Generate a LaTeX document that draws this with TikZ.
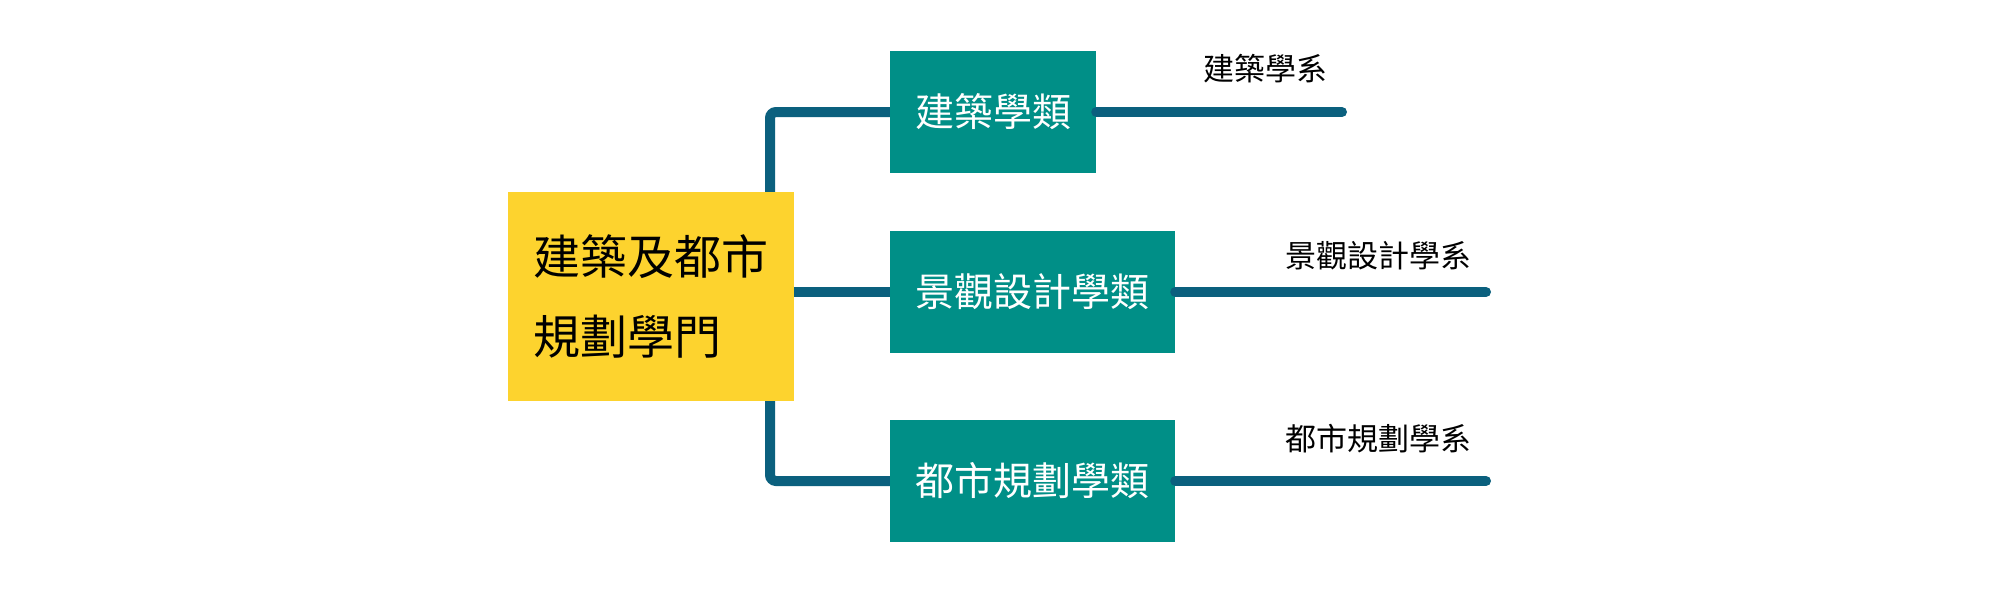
\documentclass[tikz,border=0pt]{standalone}
\usepackage{fontspec}
\newfontfamily\cjk{Noto Sans CJK TC}
\definecolor{ybox}{HTML}{FDD32E}
\definecolor{tbox}{HTML}{008F87}
\definecolor{lnc}{HTML}{0B607E}
\begin{document}
\begin{tikzpicture}[x=1pt,y=-1pt,
  conn/.style={draw=lnc,line width=10pt,rounded corners=6pt},
  connend/.style={conn,line cap=round},
  mainbox/.style={rectangle,fill=ybox,minimum width=286pt,minimum height=209pt,inner sep=0pt,text width=236pt,align=left,font=\cjk\fontsize{47}{80.5}\selectfont},
  catbox/.style={rectangle,fill=tbox,minimum height=122pt,inner sep=0pt,text=white,font=\cjk\fontsize{39}{45}\selectfont},
  dept/.style={inner sep=0pt,font=\cjk\fontsize{31}{36}\selectfont}]
\useasboundingbox (0,0) rectangle (2000,594);
\coordinate (v) at (770,0);
\node[catbox,minimum width=206pt] (t1) at (993,112) {建築學類};
\node[catbox,minimum width=285pt] (t2) at (1032.5,292) {景觀設計學類};
\node[catbox,minimum width=285pt] (t3) at (1032.5,481) {都市規劃學類};
\coordinate (e1) at (1342,112);
\coordinate (e2) at (1486,292);
\coordinate (e3) at (1486,481);
\draw[conn] (t1.west) -- (t1.west -| v) -- (v |- t3.west) -- (t3.west);
\draw[conn] (v |- t2.west) -- (t2.west);
\draw[connend] (t1.east) -- (e1);
\draw[connend] (t2.east) -- (e2);
\draw[connend] (t3.east) -- (e3);
\node[mainbox] (m) at (651,296.5) {建築及都市\\規劃學門};
\node[dept] (l1) at (1265,68.5) {建築學系};
\node[dept] (l2) at (1378,256) {景觀設計學系};
\node[dept] (l3) at (1378,439) {都市規劃學系};
\end{tikzpicture}
\end{document}
